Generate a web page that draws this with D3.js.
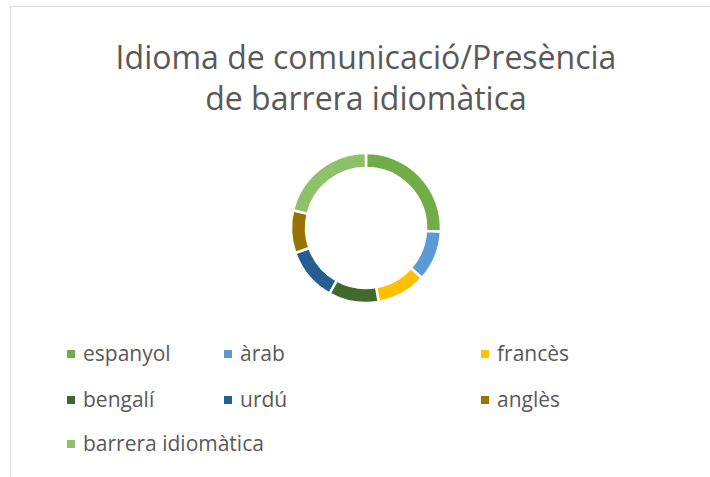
<!DOCTYPE html>
<html>
<head>
<meta charset="utf-8">
<script src="https://cdn.jsdelivr.net/npm/d3@7"></script>
<style>
  body { margin: 0; background: #fff; }
  svg { display: block; }
</style>
</head>
<body>
<svg id="chart" width="710" height="477"></svg>
<script>
// categories and values (share of cases)
var languages = ["espanyol", "àrab", "francès", "bengalí", "urdú", "anglès", "barrera idiomàtica"];
var shares = [25.8, 10.8, 10.7, 10.8, 11.5, 9.2, 21.2];
var colors = ["#70ad47", "#5b9bd5", "#ffc000", "#43682b", "#255e91", "#997300", "#8fc16b"];
var titleLines = ["Idioma de comunicació/Presència", "de barrera idiomàtica"];

var data = languages.map(function (d, i) {
    return { name: d, value: shares[i], color: colors[i] };
});

var svg = d3.select("#chart");

// chart frame (only top and left edges fall inside the window)
svg.append("rect")
    .attr("x", 10.5)
    .attr("y", 6.5)
    .attr("width", 720)
    .attr("height", 500)
    .attr("fill", "none")
    .attr("stroke", "#d9d9d9");

var font = "'Open Sans', 'Noto Sans', sans-serif";

// title
var title = svg.append("g");
title.selectAll("text")
    .data(titleLines)
    .enter()
    .append("text")
    .attr("x", 366)
    .attr("y", function (d, i) { return 69 + i * 41; })
    .attr("text-anchor", "middle")
    .style("font-family", font)
    .style("font-size", "32px")
    .style("fill", "#595959")
    .text(function (d) { return d; });

// donut
var pie = d3.pie()
    .sort(null)
    .value(function (d) { return d.value; });

var arc = d3.arc()
    .innerRadius(60)
    .outerRadius(75);

svg.append("g")
    .attr("transform", "translate(366,228)")
    .selectAll("path")
    .data(pie(data))
    .enter()
    .append("path")
    .attr("d", arc)
    .attr("fill", function (d) { return d.data.color; })
    .attr("stroke", "#fff")
    .attr("stroke-width", 2.5);

// legend, three columns
var colX = [67, 224, 481];
var rowY = [354, 400, 444];

var legend = svg.append("g")
    .selectAll("g")
    .data(data)
    .enter()
    .append("g")
    .attr("transform", function (d, i) {
        return "translate(" + colX[i % 3] + "," + rowY[Math.floor(i / 3)] + ")";
    });

legend.append("rect")
    .attr("x", 0)
    .attr("y", -4)
    .attr("width", 8)
    .attr("height", 8)
    .attr("fill", function (d) { return d.color; });

legend.append("text")
    .attr("x", 16)
    .attr("y", 0)
    .attr("dy", "0.35em")
    .style("font-family", font)
    .style("font-size", "21px")
    .style("fill", "#595959")
    .text(function (d) { return d.name; });
</script>
</body>
</html>
